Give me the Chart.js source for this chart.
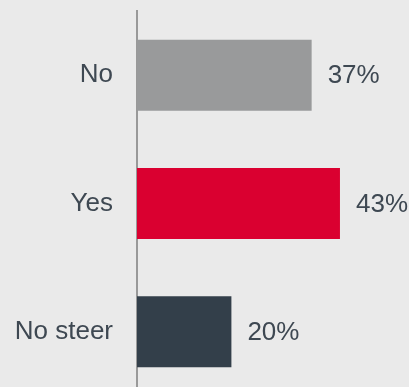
<!DOCTYPE html>
<html>
<head>
<meta charset="utf-8">
<script src="https://cdn.jsdelivr.net/npm/chart.js@4"></script>
<style>
  html, body { margin: 0; padding: 0; background: #eaeaea; overflow: hidden; }
  canvas { display: block; }
</style>
</head>
<body>
<canvas id="mycanvas" width="409" height="397"></canvas>
<script>
var categories = ["No", "Yes", "No steer"];
var values = [37, 43, 20];
var barColors = ["#999a9b", "#da0030", "#333f4a"];

var textColor = "#3e4852";
var fontFamily = "'Liberation Sans', Arial, sans-serif";

// draws the "37%" style labels just right of each bar
var valueLabels = {
  id: "valueLabels",
  afterDatasetsDraw: function(chart) {
    var ctx = chart.ctx;
    var meta = chart.getDatasetMeta(0);
    ctx.save();
    ctx.font = "26px " + fontFamily;
    ctx.fillStyle = textColor;
    ctx.textAlign = "left";
    ctx.textBaseline = "middle";
    meta.data.forEach(function(bar, i) {
      ctx.fillText(values[i] + "%", bar.x + 16, bar.y + 1);
    });
    ctx.restore();
  }
};

var ctx = document.getElementById("mycanvas");

var chart = new Chart(ctx, {
  type: "bar",
  data: {
    labels: categories,
    datasets: [{
      data: values,
      backgroundColor: barColors,
      borderWidth: 0,
      categoryPercentage: 1,
      barPercentage: 0.553
    }]
  },
  options: {
    indexAxis: "y",
    responsive: false,
    animation: false,
    layout: { padding: { top: 11, bottom: 1, left: 0, right: 36 } },
    plugins: {
      legend: { display: false },
      tooltip: { enabled: false }
    },
    scales: {
      x: {
        display: false,
        min: 0,
        max: 50
      },
      y: {
        grid: { display: false, drawTicks: false },
        border: { display: true, color: "#999999", width: 2 },
        afterFit: function(scale) {
          scale.width = 137;
          scale.paddingTop = 0;
          scale.paddingBottom = 0;
        },
        ticks: {
          color: textColor,
          padding: 24,
          font: { family: fontFamily, size: 26 }
        }
      }
    }
  },
  plugins: [valueLabels]
});
</script>
</body>
</html>
